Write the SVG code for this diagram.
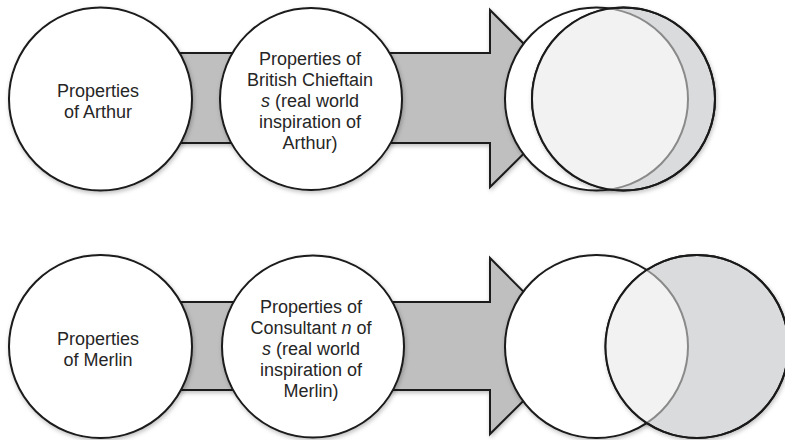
<svg xmlns="http://www.w3.org/2000/svg" width="785" height="440" viewBox="0 0 785 440">
<style>
.node{fill:#ffffff;stroke:#1a1a1a;stroke-width:2}
.arrow{fill:#bfbfbf;stroke:#1a1a1a;stroke-width:2;stroke-linejoin:miter}
.lbl{font-family:"Liberation Sans",Arial,sans-serif;font-size:18px;fill:#262626;text-anchor:middle}
.vl{fill:#ffffff;stroke:#1a1a1a;stroke-width:2}
.vr{fill:#dadbdc;stroke:#1a1a1a;stroke-width:2}
.vo{fill:#f2f2f2;stroke:#8a8a8a;stroke-width:2}
.vro{fill:none;stroke:#1a1a1a;stroke-width:2}
</style>
<defs>
<filter id="sh" x="-10%" y="-10%" width="125%" height="125%">
<feDropShadow dx="1" dy="2" stdDeviation="2" flood-color="#000" flood-opacity="0.25"/>
</filter>
<clipPath id="clipTop"><circle cx="623.5" cy="99" r="91.5"/></clipPath>
<clipPath id="clipBot"><circle cx="697" cy="346.5" r="91.5"/></clipPath>
</defs>
<rect width="785" height="440" fill="#ffffff"/>
<g id="connectors">
<polygon class="arrow" filter="url(#sh)" points="100,53 490,53 490,10 579,99 490,187 490,143 100,143"/>
<polygon class="arrow" filter="url(#sh)" points="100,302 490,302 490,258 578,346.5 490,434 490,390 100,390"/>
</g>
<g id="arthur">
<circle class="node" filter="url(#sh)" cx="100.5" cy="99" r="91.5"/>
<text class="lbl" x="98" y="97">Properties</text>
<text class="lbl" x="98" y="118">of Arthur</text>
</g>
<g id="chieftain">
<circle class="node" filter="url(#sh)" cx="311" cy="99" r="91"/>
<text class="lbl" x="310" y="65">Properties of</text>
<text class="lbl" x="310" y="86">British Chieftain</text>
<text class="lbl" x="310" y="107"><tspan font-style="italic">s</tspan> (real world</text>
<text class="lbl" x="310" y="128">inspiration of</text>
<text class="lbl" x="310" y="149">Arthur)</text>
</g>
<g id="venn-top">
<circle class="vl" filter="url(#sh)" cx="596.5" cy="99" r="91.5"/>
<circle class="vr" filter="url(#sh)" cx="623.5" cy="99" r="91.5"/>
<circle class="vo" clip-path="url(#clipTop)" cx="596.5" cy="99" r="91.5"/>
<circle class="vro" cx="623.5" cy="99" r="91.5"/>
</g>
<g id="merlin">
<circle class="node" filter="url(#sh)" cx="100.5" cy="346.5" r="91.5"/>
<text class="lbl" x="98" y="345">Properties</text>
<text class="lbl" x="98" y="366">of Merlin</text>
</g>
<g id="consultant">
<circle class="node" filter="url(#sh)" cx="313" cy="346.5" r="91"/>
<text class="lbl" x="311" y="313">Properties of</text>
<text class="lbl" x="311" y="334">Consultant <tspan font-style="italic">n</tspan> of</text>
<text class="lbl" x="311" y="355"><tspan font-style="italic">s</tspan> (real world</text>
<text class="lbl" x="311" y="376">inspiration of</text>
<text class="lbl" x="311" y="397">Merlin)</text>
</g>
<g id="venn-bottom">
<circle class="vl" filter="url(#sh)" cx="596.5" cy="346.5" r="91.5"/>
<circle class="vr" filter="url(#sh)" cx="697" cy="346.5" r="91.5"/>
<circle class="vo" clip-path="url(#clipBot)" cx="596.5" cy="346.5" r="91.5"/>
<circle class="vro" cx="697" cy="346.5" r="91.5"/>
</g>
</svg>
